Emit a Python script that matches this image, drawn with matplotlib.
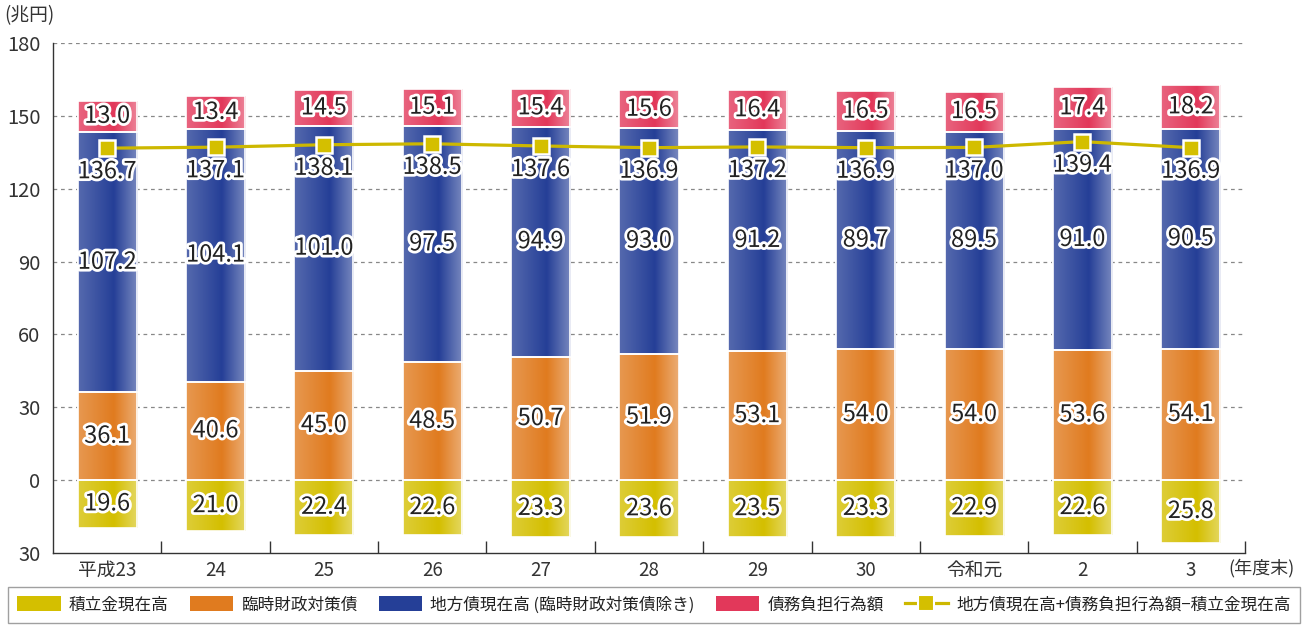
import matplotlib
matplotlib.use("Agg")
import matplotlib.pyplot as plt
import numpy as np
from matplotlib import patheffects as pe
from matplotlib.patches import Patch
from matplotlib.lines import Line2D
from matplotlib.ticker import FuncFormatter, FixedLocator

plt.rcParams['font.family'] = ['Noto Sans CJK JP', 'DejaVu Sans']

categories = ['平成23', '24', '25', '26', '27', '28', '29', '30', '令和元', '2', '3']
reserves = [19.6, 21.0, 22.4, 22.6, 23.3, 23.6, 23.5, 23.3, 22.9, 22.6, 25.8]
special_bonds = [36.1, 40.6, 45.0, 48.5, 50.7, 51.9, 53.1, 54.0, 54.0, 53.6, 54.1]
local_bonds = [107.2, 104.1, 101.0, 97.5, 94.9, 93.0, 91.2, 89.7, 89.5, 91.0, 90.5]
debt_burden = [13.0, 13.4, 14.5, 15.1, 15.4, 15.6, 16.4, 16.5, 16.5, 17.4, 18.2]
net_total = [136.7, 137.1, 138.1, 138.5, 137.6, 136.9, 137.2, 136.9, 137.0, 139.4, 136.9]

legend_labels = ['積立金現在高', '臨時財政対策債', '地方債現在高 (臨時財政対策債除き)',
                 '債務負担行為額', '地方債現在高+債務負担行為額−積立金現在高']

c_yellow = '#d4bf00'
c_orange = '#e07b1f'
c_blue = '#253f97'
c_red = '#e2385a'
c_line = '#cdb800'

fig = plt.figure(figsize=(13.08, 6.28), dpi=100)
ax = fig.add_axes([53/1308, 1-553/628, 1192/1308, 510/628])

x = np.arange(len(categories))
width = 0.545
ylim = (-30, 180)
xlim = (-0.5, len(categories) - 0.5)

reserves_neg = [-v for v in reserves]
bottom_blue = list(special_bonds)
bottom_red = [a + b for a, b in zip(special_bonds, local_bonds)]

def gradient_colors(hex_color, n=64):
    base = np.array(matplotlib.colors.to_rgb(hex_color))
    t = np.linspace(0, 1, n)
    # lighter at both edges, deepest a little right of centre
    w = np.where(t < 0.6, 0.22 * (1 - t / 0.6), 0.38 * ((t - 0.6) / 0.4))
    rgb = base[None, :] * (1 - w[:, None]) + np.ones(3)[None, :] * w[:, None]
    return rgb[None, :, :]

def gradient_bars(values, bottoms, color):
    bars = ax.bar(x, values, width, bottom=bottoms, color=color,
                  edgecolor='white', linewidth=1.2, zorder=2)
    img = gradient_colors(color)
    for rect in bars:
        x0, y0 = rect.get_x(), rect.get_y()
        w, h = rect.get_width(), rect.get_height()
        im = ax.imshow(img, extent=[x0, x0 + w, y0, y0 + h], aspect='auto',
                       interpolation='bilinear', zorder=2.1)
        im.set_clip_path(rect)
        edge = plt.Rectangle((x0, y0), w, h, facecolor='none', edgecolor='white',
                             linewidth=1.2, zorder=2.2)
        ax.add_patch(edge)
    return bars

gradient_bars(reserves_neg, [0]*len(x), c_yellow)
gradient_bars(special_bonds, [0]*len(x), c_orange)
gradient_bars(local_bonds, bottom_blue, c_blue)
gradient_bars(debt_burden, bottom_red, c_red)

ax.plot(x, net_total, color=c_line, linewidth=2.3, zorder=4,
        marker='s', markersize=11, markerfacecolor=c_yellow,
        markeredgecolor='white', markeredgewidth=1.8)

stroke = [pe.withStroke(linewidth=4, foreground='white')]
lab_kw = dict(ha='center', va='center', fontsize=17, color='#222222',
              path_effects=stroke, zorder=5)

for i in range(len(x)):
    ax.text(x[i], reserves_neg[i] / 2, f'{reserves[i]:.1f}', **lab_kw)
    ax.text(x[i], special_bonds[i] / 2, f'{special_bonds[i]:.1f}', **lab_kw)
    ax.text(x[i], bottom_blue[i] + local_bonds[i] / 2, f'{local_bonds[i]:.1f}', **lab_kw)
    ax.text(x[i], bottom_red[i] + debt_burden[i] / 2, f'{debt_burden[i]:.1f}', **lab_kw)
    ax.annotate(f'{net_total[i]:.1f}', (x[i], net_total[i]), xytext=(0, -17),
                textcoords='offset points', **lab_kw)

ax.set_xlim(*xlim)
ax.set_ylim(*ylim)

ax.set_yticks(np.arange(-30, 181, 30))
ax.yaxis.set_major_formatter(FuncFormatter(lambda v, p: f'{abs(int(v))}'))
ax.tick_params(axis='y', length=0, pad=9, labelsize=14.5, labelcolor='#333333')

ax.set_xticks(x)
ax.set_xticklabels(categories)
ax.xaxis.set_minor_locator(FixedLocator(np.arange(0.5, len(categories), 1.0)))
ax.tick_params(axis='x', which='major', length=0, pad=5, labelsize=13.5, labelcolor='#333333')
ax.tick_params(axis='x', which='minor', direction='in', length=9, width=1.0, color='#333333')

for yv in np.arange(0, 181, 30):
    ax.axhline(yv, color='#888888', linewidth=0.9, linestyle=(0, (3, 3)), zorder=1)

for side in ['top', 'right']:
    ax.spines[side].set_visible(False)
for side in ['left', 'bottom']:
    ax.spines[side].set_color('#333333')
    ax.spines[side].set_linewidth(1.0)

fig.text(4/1308, 1-16/628, '(兆円)', fontsize=13.5, color='#333333', va='center', ha='left')
fig.text(1228/1308, 1-568/628, '(年度末)', fontsize=13, color='#333333', va='center', ha='left')

handles = [Patch(facecolor=c_yellow), Patch(facecolor=c_orange), Patch(facecolor=c_blue),
           Patch(facecolor=c_red),
           Line2D([], [], color=c_line, linewidth=2.3, marker='s', markersize=11,
                  markerfacecolor=c_yellow, markeredgecolor='white', markeredgewidth=1.5)]
leg_top = 1 - 587/628
leg = fig.legend(handles, legend_labels, ncol=5, loc='upper left',
                 bbox_to_anchor=(8/1308, leg_top - 0.06, 1292/1308, 0.06), mode='expand',
                 fontsize=12, frameon=True, fancybox=False, edgecolor='#888888',
                 handlelength=2.6, handleheight=1.0, handletextpad=0.5,
                 borderpad=0.55, borderaxespad=0)
leg.get_frame().set_linewidth(1.0)
for t in leg.get_texts():
    t.set_color('#222222')

fig.savefig('out.png', dpi=100)
